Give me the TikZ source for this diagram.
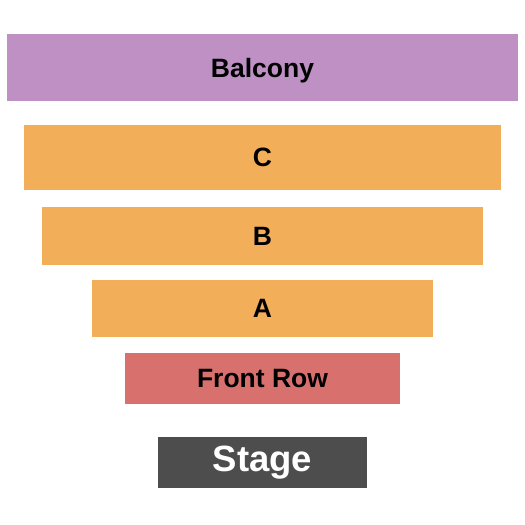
\documentclass[tikz,border=0pt]{standalone}
\usepackage{fontspec}
\setmainfont{Liberation Sans}
\usepackage{xcolor}
\usepackage{tikz}
\usetikzlibrary{positioning}
\definecolor{mypurple}{RGB}{190,144,196}
\definecolor{myorange}{RGB}{243,174,90}
\definecolor{myred}{RGB}{216,112,110}
\definecolor{mydark}{RGB}{77,77,77}
\tikzset{
  section/.style={rectangle, draw=none, fill=myorange, inner sep=0pt,
    font=\fontsize{26.5}{30}\selectfont\bfseries, text=black},
  balcony/.style={section, fill=mypurple, text depth=0pt},
  frontrow/.style={section, fill=myred},
  stage/.style={section, fill=mydark, text=white,
    font=\fontsize{36.5}{40}\selectfont\bfseries}
}

\begin{document}
\begin{tikzpicture}[x=1pt, y=-1pt]
  \useasboundingbox (0,0) rectangle (525,525);
  \node[balcony, minimum width=511pt, minimum height=67pt] (balc) at (262.5,67.5) {Balcony};
  \node[section, minimum width=477pt, minimum height=65pt] (secc) at (262.5,157.5) {C};
  \node[section, minimum width=441pt, minimum height=58pt] (secb) at (262.5,236) {B};
  \node[section, minimum width=341pt, minimum height=57pt] (seca) at (262.5,308.5) {A};
  \node[frontrow, minimum width=275pt, minimum height=51pt] (front) at (262.5,378.5) {Front Row};
  \node[stage, minimum width=209pt, minimum height=51pt] (stg) at (262.5,462.5) {Stage};
\end{tikzpicture}
\end{document}
